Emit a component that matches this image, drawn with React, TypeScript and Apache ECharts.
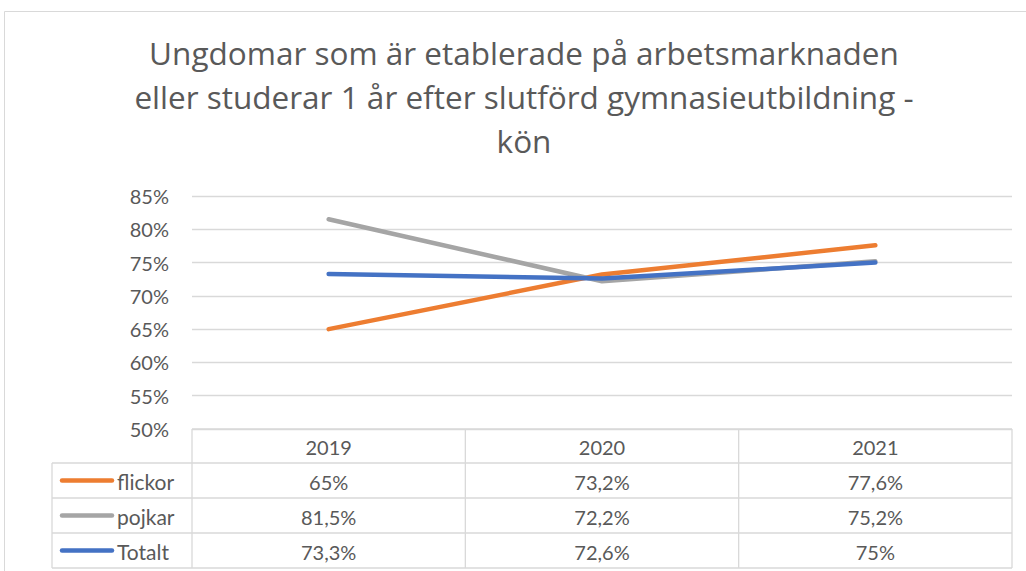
import React, { useEffect, useRef } from "react";
import * as echarts from "echarts";

const titleText = "Ungdomar som är etablerade på arbetsmarknaden\neller studerar 1 år efter slutförd gymnasieutbildning -\nkön";
const categories = ["2019", "2020", "2021"];
const seriesNames = ["flickor", "pojkar", "Totalt"];
const flickor = [65, 73.2, 77.6];
const pojkar = [81.5, 72.2, 75.2];
const totalt = [73.3, 72.6, 75];
const seriesValues = [flickor, pojkar, totalt];
const colors = ["#ED7D31", "#A5A5A5", "#4472C4"];
const yMin = 50;
const yMax = 85;
const yStep = 5;

const FONT = "Lato, 'Noto Sans', sans-serif";
const TITLE_FONT = "'Open Sans', 'Noto Sans', sans-serif";
const TEXT = "#595959";
const LINE = "#D9D9D9";

const fmt = (v: number) => String(v).replace(".", ",") + "%";

export default function App() {
  const ref = useRef<HTMLDivElement>(null);
  useEffect(() => {
    if (!ref.current) return;
    const chart = echarts.init(ref.current, null, { renderer: "svg" });
    chart.setOption({
      animation: false,
      backgroundColor: "#ffffff",
      title: {
        text: titleText,
        left: 519,
        top: 25,
        textAlign: "center",
        textStyle: {
          fontFamily: TITLE_FONT,
          fontSize: 31.5,
          fontWeight: "normal",
          color: TEXT,
          lineHeight: 44,
        },
      },
      grid: { left: 192, right: 14, top: 196, bottom: 142 },
      xAxis: {
        type: "category",
        data: categories,
        boundaryGap: true,
        axisLine: { show: false },
        axisTick: { show: false },
        axisLabel: { show: false },
      },
      yAxis: {
        type: "value",
        min: yMin,
        max: yMax,
        interval: yStep,
        axisLine: { show: false },
        axisTick: { show: false },
        splitLine: { lineStyle: { color: LINE, width: 1.3 } },
        axisLabel: {
          formatter: (v: number) => v + "%",
          fontFamily: FONT,
          fontSize: 20,
          color: TEXT,
          margin: 23,
          padding: [9, 0, 0, 0],
        },
      },
      series: seriesNames.map((name, i) => ({
        type: "line",
        name,
        data: seriesValues[i],
        symbol: "none",
        lineStyle: { color: colors[i], width: 4.5, cap: "round", join: "round" },
        itemStyle: { color: colors[i] },
      })),
    });

    const xs = categories.map((c) => chart.convertToPixel({ xAxisIndex: 0 }, c) as number);
    const half = (xs[1] - xs[0]) / 2;
    const bounds = [xs[0] - half, ...xs.map((x) => x + half)];
    const top = chart.convertToPixel({ yAxisIndex: 0 }, yMin) as number;
    const headerH = 34;
    const rowH = 35;
    const legendLeft = 52;
    const rowTops = seriesNames.map((_, i) => top + headerH + i * rowH);
    const bottom = top + headerH + seriesNames.length * rowH;
    const ls = { stroke: LINE, lineWidth: 1.3 };
    const g: any[] = [];
    g.push({ type: "line", shape: { x1: 4.5, y1: 11.5, x2: 1026, y2: 11.5 }, style: { stroke: "#D9D9D9", lineWidth: 1 } });
    g.push({ type: "line", shape: { x1: 4.5, y1: 11.5, x2: 4.5, y2: 571 }, style: { stroke: "#D9D9D9", lineWidth: 1 } });
    bounds.forEach((x) => g.push({ type: "line", shape: { x1: x, y1: top, x2: x, y2: bottom }, style: ls }));
    g.push({ type: "line", shape: { x1: legendLeft, y1: top + headerH, x2: legendLeft, y2: bottom }, style: ls });
    g.push({ type: "line", shape: { x1: bounds[0], y1: top, x2: bounds[bounds.length - 1], y2: top }, style: ls });
    [...rowTops, bottom].forEach((y) =>
      g.push({ type: "line", shape: { x1: legendLeft, y1: y, x2: bounds[bounds.length - 1], y2: y }, style: ls })
    );
    categories.forEach((c, j) =>
      g.push({
        type: "text",
        x: xs[j],
        y: top + headerH / 2 + 1,
        style: { text: c, fontFamily: FONT, fontSize: 20, fill: TEXT, align: "center", verticalAlign: "middle" },
      })
    );
    seriesNames.forEach((name, i) => {
      const cy = rowTops[i] + rowH / 2;
      g.push({
        type: "line",
        shape: { x1: 62, y1: cy, x2: 112, y2: cy },
        style: { stroke: colors[i], lineWidth: 4.5, lineCap: "round" },
      });
      g.push({
        type: "text",
        x: 117,
        y: cy + 1,
        style: { text: name, fontFamily: FONT, fontSize: 21, fill: TEXT, align: "left", verticalAlign: "middle" },
      });
      seriesValues[i].forEach((v, j) =>
        g.push({
          type: "text",
          x: xs[j],
          y: cy + 1,
          style: { text: fmt(v), fontFamily: FONT, fontSize: 20, fill: TEXT, align: "center", verticalAlign: "middle" },
        })
      );
    });
    chart.setOption({ graphic: g });
    return () => chart.dispose();
  }, []);
  return <div ref={ref} style={{ position: "absolute", left: 0, top: 0, width: 1026, height: 571 }} />;
}
